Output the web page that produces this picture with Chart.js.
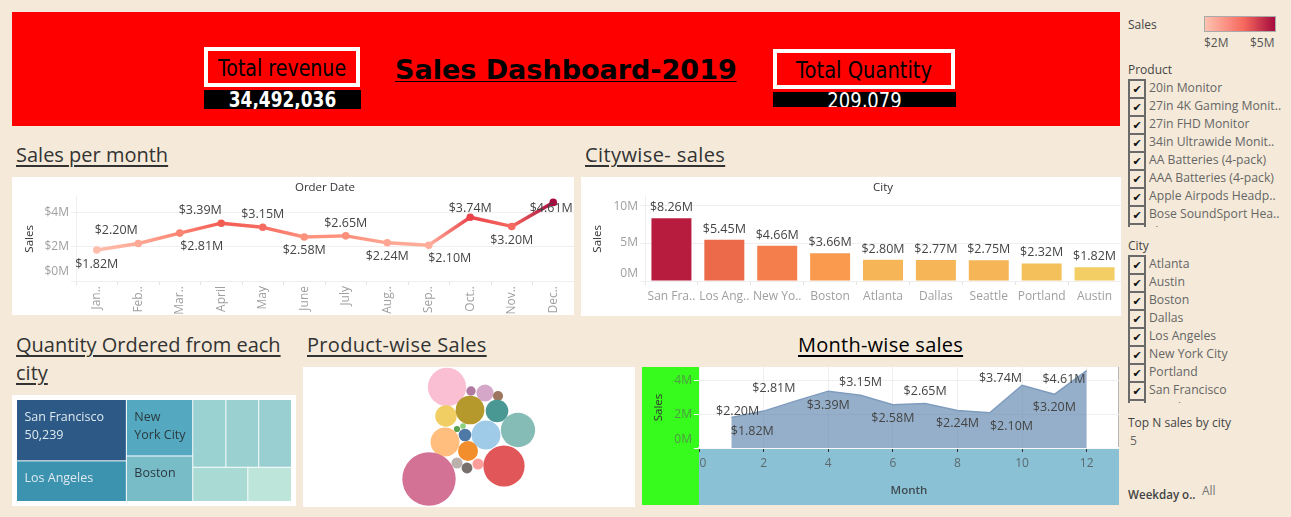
<!DOCTYPE html>
<html><head><meta charset="utf-8">
<script src="https://cdn.jsdelivr.net/npm/chart.js@4"></script>
<style>
html,body{margin:0;padding:0;width:1291px;height:517px;overflow:hidden;background:#f5ead9;font-family:"Open Sans","Noto Sans",sans-serif;}
.abs,canvas{position:absolute;display:block;}
canvas{background:#fff;}
.banner{position:absolute;left:12px;top:12px;width:1108px;height:114px;background:#fe0000;}
.box{position:absolute;box-sizing:border-box;border:4px solid #fff;color:#000;font-family:"DejaVu Sans";display:flex;align-items:center;justify-content:center;white-space:nowrap;padding-top:2px;}
.box span,.num span{display:inline-block;transform:scaleY(1.2);}
.num{position:absolute;background:#000;color:#fff;font-family:"DejaVu Sans";text-align:center;overflow:hidden;white-space:nowrap;}
.main{position:absolute;left:395px;top:52px;font:bold 27px/36px "DejaVu Sans";color:#000;text-decoration:underline;text-decoration-thickness:1px;text-underline-offset:2px;white-space:nowrap;}
.h{position:absolute;font-size:20px;line-height:28px;color:#333;text-decoration:underline;text-decoration-thickness:1.5px;text-underline-offset:3px;}
.s{position:absolute;font-size:12px;line-height:18px;color:#444;white-space:nowrap;}
.list{position:absolute;left:1128px;width:160px;overflow:hidden;}
.row{position:relative;height:18px;font-size:12.2px;line-height:17px;color:#666;white-space:nowrap;padding-left:21px;}
.row i{position:absolute;left:0;top:0;width:14px;height:16px;border:2px solid #6a6a6a;border-bottom:0;padding-bottom:2px;font:normal 11px/17px "DejaVu Sans";color:#111;text-align:center;}
</style></head><body>
<div class="banner"></div>
<div class="box" style="left:204px;top:47px;width:156px;height:40px;font-size:19px"><span>Total revenue</span></div>
<div class="num" style="left:204px;top:90px;width:157px;height:19px;font-size:17px;line-height:20px;font-weight:bold"><span id="revenue"></span></div>
<div class="main">Sales Dashboard-2019</div>
<div class="box" style="left:773px;top:49px;width:182px;height:40px;font-size:19.5px"><span>Total Quantity</span></div>
<div class="num" style="left:773px;top:92px;width:183px;height:15px;font-size:18px;line-height:18px"><span id="quantity"></span></div>

<div class="h" style="left:16px;top:141px">Sales per month</div>
<div class="h" style="left:585px;top:141px;letter-spacing:.4px">Citywise- sales</div>
<div class="h" style="left:16px;top:331px;width:280px">Quantity Ordered from each city</div>
<div class="h" style="left:307px;top:331px;letter-spacing:.3px">Product-wise Sales</div>
<div class="h" style="left:798px;top:331px;color:#000;letter-spacing:.25px">Month-wise sales</div>

<canvas id="lineChart" width="562" height="138" style="left:12px;top:177px"></canvas>
<canvas id="barChart" width="540" height="139" style="left:581px;top:177px"></canvas>
<canvas id="treeChart" width="284" height="111" style="left:12px;top:395px"></canvas>
<canvas id="bubbleChart" width="332" height="140" style="left:303px;top:367px"></canvas>
<canvas id="areaChart" width="477" height="138" style="left:642px;top:367px"></canvas>

<div class="s" style="left:1128px;top:16px">Sales</div>
<div class="abs" style="left:1204px;top:16px;width:70px;height:14px;border:1px solid #aaa;background:linear-gradient(90deg,#ffc2b0,#f6695e 55%,#a50b3f)"></div>
<div class="s" style="left:1204px;top:34px;color:#555">$2M</div>
<div class="s" style="left:1250px;top:34px;color:#555">$5M</div>
<div class="s" style="left:1128px;top:61px">Product</div>
<div class="list" id="productList" style="top:79px;height:148px"></div>
<div class="s" style="left:1128px;top:237px">City</div>
<div class="list" id="cityList" style="top:255px;height:148px"></div>
<div class="s" style="left:1128px;top:414px">Top N sales by city</div>
<div class="s" style="left:1130px;top:432px;color:#666">5</div>
<div class="s" style="left:1128px;top:486px;font-weight:600;font-size:11.6px;color:#444">Weekday o..</div>
<div class="s" style="left:1202px;top:482px;color:#777">All</div>

<script>
// ---------- data ----------
const totalRevenue = "34,492,036";
const totalQuantity = "209,079";
const monthLabels = ["Jan..","Feb..","Mar..","April","May","June","July","Aug..","Sep..","Oct..","Nov..","Dec.."];
const monthNumbers = [1,2,3,4,5,6,7,8,9,10,11,12];
const monthSales = [1.82,2.20,2.81,3.39,3.15,2.58,2.65,2.24,2.10,3.74,3.20,4.61];
const cityLabels = ["San Fra..","Los Ang..","New Yo..","Boston","Atlanta","Dallas","Seattle","Portland","Austin"];
const citySales = [8.26,5.45,4.66,3.66,2.80,2.77,2.75,2.32,1.82];
const treeCities = ["San Francisco","Los Angeles","New York City","Boston","Dallas","Atlanta","Seattle","Portland","Austin"];
const treeQuantity = [50239,33289,27932,22528,16730,16602,16553,14053,11153];
const bubbleProductSales = [4.13,0.25,0.83,0.29,1.31,2.32,1.44,3.32,0.11,0.09,0.45,2.36,2.35,1.13,0.35,0.33,0.35,4.79,8.03];
const bubblePackX = [-22,2,16,29,-23,1,28,49,-12,-6,-4,17,-24,-1,-12,-2,9,35,-40];
const bubblePackY = [50,46,44,41,21,27,26,7,8,11,2,2,-5,-14,-26,-31,-27,-29,-42];
const productFilter = ["20in Monitor","27in 4K Gaming Monit..","27in FHD Monitor","34in Ultrawide Monit..","AA Batteries (4-pack)","AAA Batteries (4-pack)","Apple Airpods Headp..","Bose SoundSport Hea..","Flatscreen TV"];
const cityFilter = ["Atlanta","Austin","Boston","Dallas","Los Angeles","New York City","Portland","San Francisco","Seattle"];

// ---------- styles ----------
const cityColors = ["#b71c3f","#ec694a","#f47f4c","#fa9a4f","#f6b556","#f6b556","#f6b556","#f4c05c","#f2ce65"];
const treeColors = ["#2c5985","#3b93b0","#54a8bf","#78bcc8","#9ad1d1","#9ad0d0","#9acfd1","#a9dad3","#bde5da"];
const bubbleColors = ["#fabfd2","#b07aa1","#d4a6c8","#9d7660","#f1ce63","#b6992d","#499894","#86bcb6","#59a14f","#8cd17d","#4e79a7","#a0cbe8","#ffbe7d","#f28e2b","#bab0ac","#79706e","#ff9d9a","#e15759","#d37295"];
const FONT = '"Open Sans","Noto Sans",sans-serif';
const money = v => "$" + v.toFixed(2) + "M";
Chart.defaults.font.family = FONT;
Chart.defaults.animation = false;
Chart.defaults.responsive = false;

document.getElementById("revenue").textContent = totalRevenue;
document.getElementById("quantity").textContent = totalQuantity;
function fillList(id, items){
  const el = document.getElementById(id);
  items.forEach(t => {
    const r = document.createElement("div"); r.className = "row";
    const i = document.createElement("i"); i.textContent = "\u2714"; r.appendChild(i);
    r.appendChild(document.createTextNode(t)); el.appendChild(r);
  });
}
fillList("productList", productFilter);
fillList("cityList", cityFilter);

// Axes span the whole box: no inner room for half labels at the ends.
function fitAxis(s, size){
  if (s.isHorizontal()) s.height = size; else s.width = size;
  s.paddingLeft = s.paddingRight = s.paddingTop = s.paddingBottom = 0;
  if (s._margins) { s._margins.left = s._margins.right = s._margins.top = s._margins.bottom = 0; }
}
// Draws value labels next to the library's own elements.
const valueLabels = {
  id: "valueLabels",
  afterDatasetsDraw(chart, args, o){
    const ctx = chart.ctx, pts = chart.getDatasetMeta(0).data;
    ctx.save();
    ctx.font = "12.5px " + FONT; ctx.fillStyle = "#444"; ctx.textAlign = "center"; ctx.textBaseline = "middle";
    pts.forEach((p, i) => {
      const d = o.offsets[i];
      ctx.fillText(money(chart.data.datasets[0].data[i].y ?? chart.data.datasets[0].data[i]), p.x + d[0], p.y + d[1]);
    });
    ctx.restore();
  }
};
// Moves the end labels of an axis inwards, as the reference does.
const nudgeTicks = {
  id: "nudgeTicks",
  beforeDraw(chart, args, o){
    (o.moves || []).forEach(m => {
      chart.scales[m.scale].getLabelItems().forEach(it => {
        if (it.label === m.label) { it.options.translation[0] += m.dx || 0; it.options.translation[1] += m.dy || 0; }
      });
    });
  }
};
const lerpStops = [[1.82,[255,190,172]],[2.6,[253,146,125]],[3.39,[243,92,85]],[3.74,[234,67,74]],[4.61,[165,11,63]]];
function salesColor(v){
  for (let i = 1; i < lerpStops.length; i++){
    if (v <= lerpStops[i][0]){
      const a = lerpStops[i-1], b = lerpStops[i], t = (v - a[0]) / (b[0] - a[0]);
      return "rgb(" + a[1].map((c, k) => Math.round(c + (b[1][k] - c) * t)).join(",") + ")";
    }
  }
  return "rgb(165,11,63)";
}
const GRID = "#efefef", TICKTXT = "#9f9f9f";

// ---------- sales per month ----------
const lineCanvas = document.getElementById("lineChart");
new Chart(lineCanvas, {
  type: "line",
  data: { labels: monthLabels, datasets: [{
    data: monthSales, borderWidth: 3.4, fill: false, tension: 0,
    pointRadius: 3.8, pointBorderWidth: 0,
    pointBackgroundColor: c => salesColor(monthSales[c.dataIndex]),
    borderColor: "#f6695e",
    segment: { borderColor: c => {
      const g = lineCanvas.getContext("2d").createLinearGradient(c.p0.x, 0, c.p1.x, 0);
      g.addColorStop(0, salesColor(monthSales[c.p0DataIndex]));
      g.addColorStop(1, salesColor(monthSales[c.p1DataIndex]));
      return g;
    } }
  }]},
  plugins: [valueLabels, nudgeTicks],
  options: {
    layout: { autoPadding: false },
    plugins: {
      legend: { display: false }, tooltip: { enabled: false },
      title: { display: true, fullSize: false, text: "Order Date", color: "#333", font: { size: 11.5, weight: "normal" }, padding: { top: 4, bottom: 2 } },
      valueLabels: { offsets: [[0,14],[-22,-13],[22,13.5],[-21,-13],[0,-12.5],[0,13.7],[0,-12],[0,13.7],[21,13.4],[0,-9],[0,14],[-2,5.7]] },
      nudgeTicks: { moves: [{ scale: "y", label: "$0M", dy: -9 }] }
    },
    scales: {
      x: { offset: true, grid: { drawOnChartArea: false, offset: true, tickLength: 4, color: "#e4e4e4" }, border: { color: GRID },
           ticks: { minRotation: 90, maxRotation: 90, autoSkip: false, color: TICKTXT, font: { size: 12 }, padding: 1 },
           afterFit: s => fitAxis(s, 34) },
      y: { min: 0, max: 4.94, grid: { color: GRID, tickLength: 5 }, border: { color: GRID },
           ticks: { stepSize: 2, includeBounds: false, color: TICKTXT, font: { size: 12 }, padding: 2, callback: v => "$" + v + "M" },
           title: { display: true, text: "Sales", color: "#333", font: { size: 11.5 }, padding: { top: 11, bottom: 0 } },
           afterFit: s => fitAxis(s, 64) }
    }
  }
});

// ---------- citywise sales ----------
new Chart(document.getElementById("barChart"), {
  type: "bar",
  data: { labels: cityLabels, datasets: [{ data: citySales, backgroundColor: cityColors, categoryPercentage: 1, barPercentage: 0.756 }] },
  plugins: [valueLabels, nudgeTicks],
  options: {
    layout: { autoPadding: false },
    plugins: {
      legend: { display: false }, tooltip: { enabled: false },
      title: { display: true, fullSize: false, text: "City", color: "#333", font: { size: 11.5, weight: "normal" }, padding: { top: 4, bottom: 2 } },
      valueLabels: { offsets: citySales.map(() => [0, -10.5]) },
      nudgeTicks: { moves: [{ scale: "y", label: "0M", dy: -7.5 }, { scale: "y", label: "10M", dy: 1 }] }
    },
    scales: {
      x: { grid: { drawOnChartArea: false, offset: true, tickLength: 4, color: "#e4e4e4" }, border: { color: GRID },
           ticks: { maxRotation: 0, minRotation: 0, autoSkip: false, color: TICKTXT, font: { size: 12 }, padding: 4 },
           afterFit: s => fitAxis(s, 35) },
      y: { min: 0, max: 11.1, grid: { color: GRID, tickLength: 5 }, border: { color: GRID },
           ticks: { stepSize: 5, includeBounds: false, color: TICKTXT, font: { size: 12 }, padding: 2, callback: v => v + "M" },
           title: { display: true, text: "Sales", color: "#333", font: { size: 11.5 }, padding: { top: 10, bottom: 0 } },
           afterFit: s => fitAxis(s, 64) }
    }
  }
});

// ---------- treemap: slice-and-dice over the quantities ----------
const treeColumns = [[[0],[1]],[[2],[3]],[[4,5,6],[7,8]]];
const treeLines = { 0: [treeCities[0], treeQuantity[0].toLocaleString("en-US")], 1: [treeCities[1]], 2: ["New","York City"], 3: [treeCities[3]] };
const sumOf = idx => idx.reduce((a, i) => a + treeQuantity[i], 0);
const treeTotal = sumOf(treeQuantity.map((_, i) => i));
const treeCells = [];
{
  let x0 = 0;
  treeColumns.forEach(col => {
    const colTotal = sumOf(col.flat()), w = colTotal; let y0 = 0;
    col.forEach(row => {
      const rowTotal = sumOf(row), h = rowTotal / colTotal; let xi = x0;
      row.forEach(i => {
        const cw = w * treeQuantity[i] / rowTotal;
        treeCells[i] = { x: xi + cw / 2, y: y0 + h / 2, w: cw, h };
        xi += cw;
      });
      y0 += h;
    });
    x0 += w;
  });
}
const treeRects = {
  id: "treeRects",
  afterDatasetsDraw(chart){
    const { ctx, scales: { x, y } } = chart;
    ctx.save();
    treeCells.forEach((c, i) => {
      const l = x.getPixelForValue(c.x - c.w / 2), r = x.getPixelForValue(c.x + c.w / 2);
      const t = y.getPixelForValue(c.y - c.h / 2), b = y.getPixelForValue(c.y + c.h / 2);
      ctx.fillStyle = treeColors[i];
      ctx.fillRect(l, t, r - l - 1, b - t - 1);
      ctx.fillStyle = i < 2 ? "#dfe9f0" : "#2b3a40";
      ctx.font = "12.5px " + FONT; ctx.textBaseline = "middle"; ctx.textAlign = "left";
      (treeLines[i] || []).forEach((s, k) => ctx.fillText(s, l + 7.5, t + 17 + k * 18));
    });
    ctx.restore();
  }
};
new Chart(document.getElementById("treeChart"), {
  type: "scatter",
  data: { datasets: [{ data: treeCells.map(c => ({ x: c.x, y: c.y })), pointRadius: 0 }] },
  plugins: [treeRects],
  options: {
    layout: { autoPadding: false, padding: { left: 5, right: 4, top: 5, bottom: 4 } },
    plugins: { legend: { display: false }, tooltip: { enabled: false } },
    scales: { x: { display: false, min: 0, max: treeTotal }, y: { display: false, min: 0, max: 1, reverse: true } }
  }
});

// ---------- product bubbles ----------
const bubbleK = 9.42;
new Chart(document.getElementById("bubbleChart"), {
  type: "bubble",
  data: { datasets: [{
    data: bubbleProductSales.map((s, i) => ({ x: bubblePackX[i], y: bubblePackY[i], r: bubbleK * Math.sqrt(s) })),
    backgroundColor: bubbleColors, borderWidth: 0
  }]},
  options: {
    layout: { autoPadding: false },
    plugins: { legend: { display: false }, tooltip: { enabled: false } },
    scales: { x: { display: false, min: -166, max: 166 }, y: { display: false, min: -70, max: 70 } }
  }
});

// ---------- month-wise area ----------
const areaPanels = {
  id: "areaPanels",
  beforeDraw(chart){
    const { ctx, chartArea: a, width, height } = chart;
    ctx.save();
    ctx.fillStyle = "#37fb1c"; ctx.fillRect(0, 0, a.left, height);
    ctx.fillStyle = "#8ac1d4"; ctx.fillRect(a.left, a.bottom, width - a.left, height - a.bottom);
    ctx.fillStyle = "#b5b5b5"; ctx.fillRect(a.right - 1, a.top, 1, a.bottom - a.top);
    ctx.restore();
  }
};
new Chart(document.getElementById("areaChart"), {
  type: "line",
  data: { datasets: [{
    data: monthNumbers.map((m, i) => ({ x: m, y: monthSales[i] })),
    fill: "origin", tension: 0, pointRadius: 0,
    borderColor: "#7f9cbe", borderWidth: 1.5, backgroundColor: "rgba(78,121,167,0.6)"
  }]},
  plugins: [areaPanels, valueLabels, nudgeTicks],
  options: {
    layout: { autoPadding: false },
    plugins: {
      legend: { display: false }, tooltip: { enabled: false },
      valueLabels: { offsets: [[21,14],[-26,0],[-22,-12],[0,14],[0,-13],[0,14],[0,-12],[0,13.3],[21.7,13.7],[-21.6,-6.4],[0,13],[-22.7,8.3]] },
      nudgeTicks: { moves: [{ scale: "y", label: "0M", dy: -8 }, { scale: "x", label: "0", dx: 4 }] }
    },
    scales: {
      x: { type: "linear", min: 0, max: 13, grid: { color: GRID, tickColor: "#333", tickLength: 4 }, border: { color: "#fff", width: 1.5 },
           ticks: { stepSize: 2, includeBounds: false, color: "#5c6a70", font: { size: 12 }, padding: 4 },
           title: { display: true, text: "Month", color: "#3f4a50", font: { size: 11.5, weight: 600 }, padding: { top: 8, bottom: 7 } },
           afterFit: s => fitAxis(s, 57) },
      y: { min: 0, max: 4.83, grid: { color: GRID, tickColor: "#fff", tickLength: 5 }, border: { display: false },
           ticks: { stepSize: 2, includeBounds: false, color: "#4f9a45", font: { size: 12 }, padding: 2, callback: v => v + "M" },
           title: { display: true, text: "Sales", color: "#333", font: { size: 11.5 }, padding: { top: 10, bottom: 0 } },
           afterFit: s => fitAxis(s, 57) }
    }
  }
});
</script>
</body></html>
